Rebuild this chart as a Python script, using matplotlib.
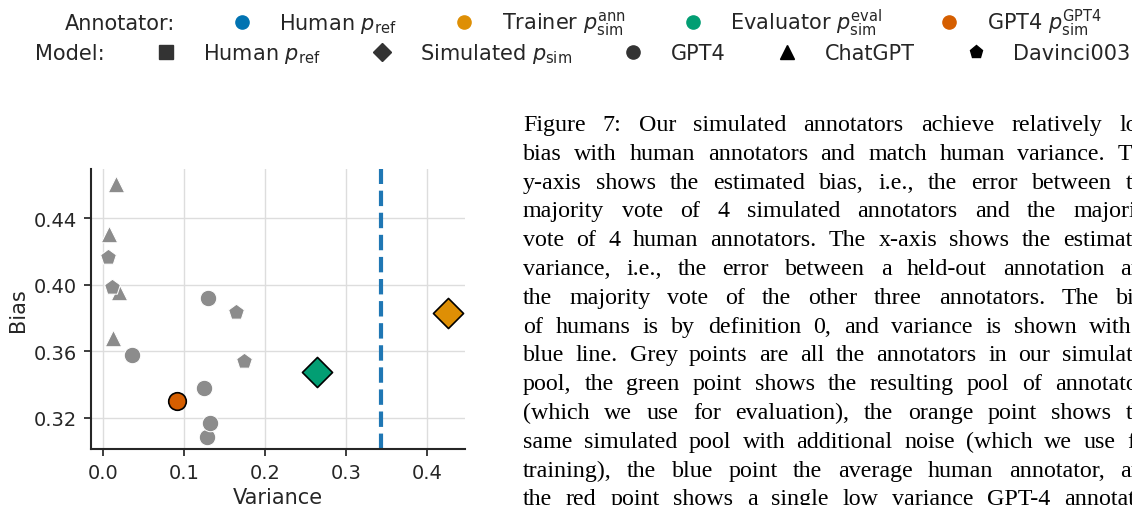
import matplotlib
matplotlib.use("Agg")
import matplotlib.pyplot as plt
from matplotlib.lines import Line2D
from matplotlib.font_manager import FontProperties

# values
chatgpt_var = [0.0161, 0.0074, 0.0201, 0.0120]
chatgpt_bias = [0.4606, 0.4306, 0.3954, 0.3680]
davinci_var = [0.0066, 0.0108, 0.1642, 0.1741]
davinci_bias = [0.4165, 0.3984, 0.3834, 0.3543]
gpt4_var = [0.1293, 0.0363, 0.1247, 0.1288, 0.1321]
gpt4_bias = [0.3920, 0.3580, 0.3381, 0.3082, 0.3166]
gpt4_sim_var = [0.0918]
gpt4_sim_bias = [0.3302]
eval_var = [0.2646]
eval_bias = [0.3473]
train_var = [0.4258]
train_bias = [0.3829]
human_var = 0.3428

x_ticks = [0.0, 0.1, 0.2, 0.3, 0.4]
y_ticks = [0.32, 0.36, 0.40, 0.44]

annot_labels = ["Annotator:", r"Human $p_{\mathrm{ref}}$",
                r"Trainer $p^{\mathrm{ann}}_{\mathrm{sim}}$",
                r"Evaluator $p^{\mathrm{eval}}_{\mathrm{sim}}$",
                r"GPT4 $p^{\mathrm{GPT4}}_{\mathrm{sim}}$"]
annot_colors = ["#0173b2", "#de8f05", "#029e73", "#d55e00"]
model_labels = ["Model:", r"Human $p_{\mathrm{ref}}$", r"Simulated $p_{\mathrm{sim}}$",
                "GPT4", "ChatGPT", "Davinci003"]
model_markers = ["s", "D", "o", "^", "p"]
model_colors = ["#333333", "#333333", "#333333", "black", "black"]

caption = [
    "Figure 7: Our simulated annotators achieve relatively low",
    "bias with human annotators and match human variance. The",
    "y-axis shows the estimated bias, i.e., the error between the",
    "majority vote of 4 simulated annotators and the majority",
    "vote of 4 human annotators. The x-axis shows the estimated",
    "variance, i.e., the error between a held-out annotation and",
    "the majority vote of the other three annotators. The bias",
    "of humans is by definition 0, and variance is shown with a",
    "blue line. Grey points are all the annotators in our simulated",
    "pool, the green point shows the resulting pool of annotators",
    "(which we use for evaluation), the orange point shows the",
    "same simulated pool with additional noise (which we use for",
    "training), the blue point the average human annotator, and",
    "the red point shows a single low variance GPT-4 annotator",
]

text_col = "#262626"
grey = "#8c8c8c"

W, H = 1132, 506
fig = plt.figure(figsize=(W / 100, H / 100), dpi=100)
ax = fig.add_axes([90.7 / W, 1 - 450 / H, (465 - 90.7) / W, (450 - 170) / H])

ax.axvline(human_var, color="#1f77b4", ls="--", lw=3, zorder=2)
ax.scatter(chatgpt_var, chatgpt_bias, marker="^", s=141, color=grey,
           edgecolor="white", linewidth=0.75, zorder=3)
ax.scatter(davinci_var, davinci_bias, marker="p", s=141, color=grey,
           edgecolor="white", linewidth=0.75, zorder=3)
ax.scatter(gpt4_var, gpt4_bias, marker="o", s=141, color=grey,
           edgecolor="white", linewidth=0.75, zorder=3)
ax.scatter(gpt4_sim_var, gpt4_sim_bias, marker="o", s=160, color=annot_colors[3],
           edgecolor="black", linewidth=1.2, zorder=4)
ax.scatter(eval_var, eval_bias, marker="D", s=235, color=annot_colors[2],
           edgecolor="black", linewidth=1.2, zorder=4)
ax.scatter(train_var, train_bias, marker="D", s=235, color=annot_colors[1],
           edgecolor="black", linewidth=1.2, zorder=4)

ax.set_xlim(-0.0152, 0.4469)
ax.set_ylim(0.3012, 0.4697)
ax.set_xticks(x_ticks)
ax.set_xticklabels([f"{v:.1f}" for v in x_ticks])
ax.set_yticks(y_ticks)
ax.set_yticklabels([f"{v:.2f}" for v in y_ticks])
ax.grid(True, color="#dddddd", lw=1.0)
ax.set_axisbelow(True)
for side in ["top", "right"]:
    ax.spines[side].set_visible(False)
for side in ["left", "bottom"]:
    ax.spines[side].set_color(text_col)
    ax.spines[side].set_linewidth(1.5)
ax.tick_params(length=5, width=1.25, colors=text_col, labelsize=14, pad=5)
ax.set_xlabel("Variance", fontsize=15, color=text_col, labelpad=4)
ax.set_ylabel("Bias", fontsize=15, color=text_col)

# two legend rows on top
leg_kw = dict(loc="center", frameon=False, fontsize=15, handlelength=2.0,
              handletextpad=0.8, borderpad=0, labelcolor=text_col)
h1 = [Line2D([], [], ls="none")]
h1 += [Line2D([], [], ls="none", marker="o", ms=9.5, color=c) for c in annot_colors]
fig.legend(h1, annot_labels, bbox_to_anchor=(554 / W, 1 - 23 / H), ncol=5,
           columnspacing=2.22, **leg_kw)
h2 = [Line2D([], [], ls="none")]
h2 += [Line2D([], [], ls="none", marker=m, ms=9.5, color=c)
       for m, c in zip(model_markers, model_colors)]
fig.legend(h2, model_labels, bbox_to_anchor=(553.5 / W, 1 - 54.5 / H), ncol=6,
           columnspacing=1.95, **leg_kw)

# justified caption column, cut by the right edge of the figure
fp = FontProperties(family="Liberation Serif", size=17.3)
renderer = fig.canvas.get_renderer()
left, right = 523, 1155
base0, step = 131, 28.8
for i, line in enumerate(caption):
    words = line.split()
    widths = [renderer.get_text_width_height_descent(w, fp, ismath=False)[0] for w in words]
    gap = (right - left - sum(widths)) / (len(words) - 1)
    x = left
    y = base0 + i * step
    for w, wd in zip(words, widths):
        fig.text(x / W, 1 - y / H, w, fontproperties=fp, color="black", va="baseline")
        x += wd + gap

fig.savefig("out.png", dpi=100)
